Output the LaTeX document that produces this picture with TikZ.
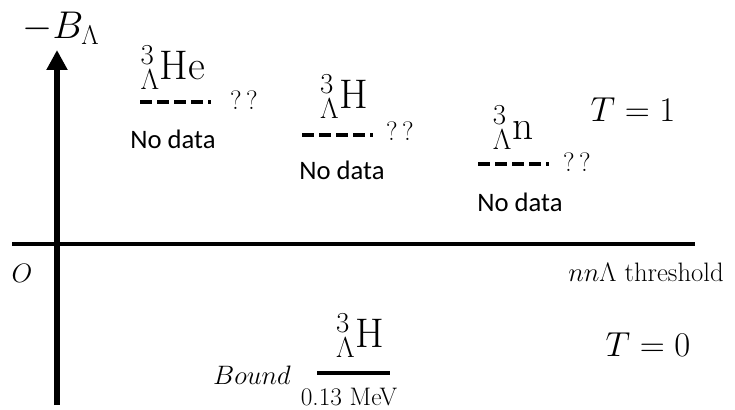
\documentclass[tikz,border=0pt]{standalone}
\usepackage{fix-cm}
\usepackage{fontspec}
\newfontfamily\carlito{Carlito}
\usetikzlibrary{arrows.meta}
\tikzset{
  lbl/.style={inner sep=0pt, font=\fontsize{31}{36}\selectfont, anchor=south},
  nodata/.style={inner sep=0pt, font=\carlito\fontsize{20}{24}\selectfont},
  qq/.style={inner sep=0pt, font=\fontsize{20}{24}\selectfont},
  big/.style={inner sep=0pt, font=\fontsize{26}{30}\selectfont},
  mid/.style={inner sep=0pt, font=\fontsize{20}{24}\selectfont},
  level/.style={line width=3pt, dash pattern=on 9pt off 3.75pt on 9pt off 3.75pt on 9pt off 3.75pt on 9pt off 3.75pt on 2.25pt off 20pt},
  bound/.style={line width=3pt},
  yaxis/.style={line width=5pt, -{Triangle[length=15pt,width=15pt]}},
  xaxis/.style={line width=3pt},
}
\begin{document}
\begin{tikzpicture}[x=0.75pt,y=-0.75pt]
\useasboundingbox (0,0) rectangle (735,410);
% axes
\coordinate (ybot) at (57,405);
\coordinate (ytop) at (57,50);
\coordinate (xl) at (12,244);
\coordinate (xr) at (695,244);
\draw[xaxis] (xl) -- (xr);
\draw[yaxis] (ybot) -- (ytop);
\node[inner sep=0pt, font=\fontsize{29}{34}\selectfont] (bl) at (61,28) {$-B_{\Lambda}$};
\node[mid] (o) at (22,273) {$O$};
\node[mid] (thr) at (646,272) {$nn\Lambda$ threshold};
\node[big] (t1) at (633,110) {$T=1$};
\node[big] (t0) at (648,345) {$T=0$};
% He
\coordinate (he1) at (140,102);
\coordinate (he2) at (211,102);
\draw[level] (he1) -- (he2);
\node[lbl] (he) at (173,90) {${}^{3}_{\Lambda}\mathrm{He}$};
\node[qq] (heq) at (244,100) {?\,?};
\node[nodata] (hen) at (173,139) {No data};
% H
\coordinate (h1) at (302,135);
\coordinate (h2) at (373,135);
\draw[level] (h1) -- (h2);
\node[lbl] (h) at (344,119) {${}^{3}_{\Lambda}\mathrm{H}$};
\node[qq] (hq) at (400,131) {?\,?};
\node[nodata] (hn) at (342,170) {No data};
% n
\coordinate (n1) at (478,164);
\coordinate (n2) at (549,164);
\draw[level] (n1) -- (n2);
\node[lbl] (nn) at (513,150) {${}^{3}_{\Lambda}\mathrm{n}$};
\node[qq] (nq) at (577,162) {?\,?};
\node[nodata] (nnd) at (520,202) {No data};
% bound H
\coordinate (b1) at (317,373);
\coordinate (b2) at (390,373);
\draw[bound] (b1) -- (b2);
\node[lbl] (bh) at (360,358) {${}^{3}_{\Lambda}\mathrm{H}$};
\node[inner sep=0pt, font=\fontsize{19}{23}\selectfont] (mev) at (349,397) {0.13 MeV};
\node[mid] (bd) at (252,375) {$Bound$};
\end{tikzpicture}
\end{document}
